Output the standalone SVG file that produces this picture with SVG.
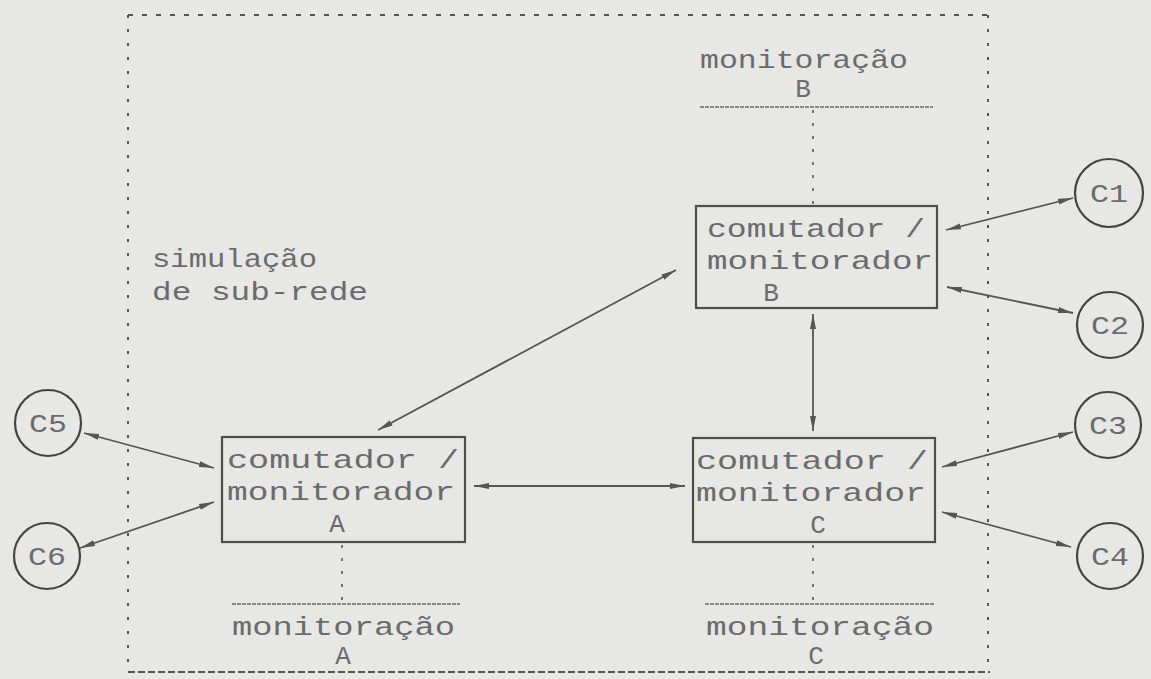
<svg xmlns="http://www.w3.org/2000/svg" width="1151" height="679" viewBox="0 0 1151 679">
<style>
.t{font-family:"Liberation Mono","DejaVu Sans Mono",monospace;font-size:26px;fill:#6b6b6b}
.m{text-anchor:middle}
.box{fill:none;stroke:#4e4e4e;stroke-width:2.2}
.circ{fill:none;stroke:#444;stroke-width:2.2}
.con{stroke:#555;stroke-width:1.8;fill:none;marker-start:url(#ah);marker-end:url(#ah)}
.frame{stroke:#555;stroke-width:2;fill:none}
.dot{stroke:#666;stroke-width:1.8;stroke-dasharray:3 10;fill:none}
.ml{stroke:#6a6a6a;stroke-width:1.6;stroke-dasharray:4 1;fill:none}
</style>
<defs>
<marker id="ah" markerUnits="userSpaceOnUse" markerWidth="16" markerHeight="8" refX="15" refY="4" orient="auto-start-reverse">
<path d="M0,1 L15,4 L0,7 z" fill="#555"/>
</marker>
</defs>
<rect width="1151" height="679" fill="#e7e7e5"/>
<g id="frame">
<path class="frame" d="M128,15 H988" stroke-dasharray="5 9"/>
<path class="frame" d="M128,15 V672" stroke-dasharray="3 11"/>
<path class="frame" d="M988,15 V672" stroke-dasharray="3 11"/>
<path class="frame" d="M128,672 H990" stroke-dasharray="7 3" stroke-width="2.4"/>
</g>
<g id="sim-label">
<text class="t" x="152" y="267" textLength="165" lengthAdjust="spacingAndGlyphs">simulação</text>
<text class="t" x="152" y="300" textLength="216" lengthAdjust="spacingAndGlyphs">de sub-rede</text>
</g>
<g id="mon-B">
<text class="t" x="700" y="68" textLength="208" lengthAdjust="spacingAndGlyphs">monitoração</text>
<text class="t m" x="803" y="97">B</text>
<path class="ml" d="M700,107 H933"/>
<path class="dot" d="M813,110 V205"/>
</g>
<g id="mon-A">
<path class="ml" d="M232,604 H460"/>
<path class="dot" d="M342,545 V603"/>
<text class="t" x="232" y="635" textLength="223" lengthAdjust="spacingAndGlyphs">monitoração</text>
<text class="t m" x="343" y="664">A</text>
</g>
<g id="mon-C">
<path class="ml" d="M705,604 H935"/>
<path class="dot" d="M813,545 V603"/>
<text class="t" x="706" y="635" textLength="228" lengthAdjust="spacingAndGlyphs">monitoração</text>
<text class="t m" x="816" y="664">C</text>
</g>
<g id="node-B">
<rect class="box" x="696" y="206" width="241" height="102"/>
<text class="t" x="707" y="237" textLength="218" lengthAdjust="spacingAndGlyphs">comutador /</text>
<text class="t" x="707" y="269" textLength="226" lengthAdjust="spacingAndGlyphs">monitorador</text>
<text class="t m" x="771" y="301">B</text>
</g>
<g id="node-A">
<rect class="box" x="222" y="437" width="243" height="105"/>
<text class="t" x="227" y="468" textLength="232" lengthAdjust="spacingAndGlyphs">comutador /</text>
<text class="t" x="227" y="500" textLength="228" lengthAdjust="spacingAndGlyphs">monitorador</text>
<text class="t m" x="337" y="532">A</text>
</g>
<g id="node-C">
<rect class="box" x="693" y="438" width="242" height="104"/>
<text class="t" x="696" y="469" textLength="232" lengthAdjust="spacingAndGlyphs">comutador /</text>
<text class="t" x="696" y="501" textLength="230" lengthAdjust="spacingAndGlyphs">monitorador</text>
<text class="t m" x="818" y="533">C</text>
</g>
<g id="node-C1"><circle class="circ" cx="1109" cy="193" r="34"/><text class="t m" x="1109" y="202" textLength="38" lengthAdjust="spacingAndGlyphs">C1</text></g>
<g id="node-C2"><circle class="circ" cx="1110" cy="325" r="33"/><text class="t m" x="1110" y="334" textLength="38" lengthAdjust="spacingAndGlyphs">C2</text></g>
<g id="node-C3"><circle class="circ" cx="1108" cy="425" r="33"/><text class="t m" x="1108" y="434" textLength="38" lengthAdjust="spacingAndGlyphs">C3</text></g>
<g id="node-C4"><circle class="circ" cx="1110" cy="556" r="33"/><text class="t m" x="1110" y="565" textLength="38" lengthAdjust="spacingAndGlyphs">C4</text></g>
<g id="node-C5"><circle class="circ" cx="48" cy="423" r="33"/><text class="t m" x="48" y="432" textLength="38" lengthAdjust="spacingAndGlyphs">C5</text></g>
<g id="node-C6"><circle class="circ" cx="47" cy="556" r="33"/><text class="t m" x="47" y="565" textLength="38" lengthAdjust="spacingAndGlyphs">C6</text></g>
<g id="connectors">
<line class="con" x1="378" y1="430" x2="676" y2="270"/>
<line class="con" x1="813" y1="314" x2="813" y2="431"/>
<line class="con" x1="474" y1="486" x2="685" y2="486"/>
<line class="con" x1="84" y1="433" x2="214" y2="468"/>
<line class="con" x1="80" y1="548" x2="214" y2="502"/>
<line class="con" x1="946" y1="230" x2="1073" y2="198"/>
<line class="con" x1="947" y1="287" x2="1073" y2="313"/>
<line class="con" x1="942" y1="467" x2="1073" y2="432"/>
<line class="con" x1="942" y1="512" x2="1071" y2="547"/>
</g>
</svg>
